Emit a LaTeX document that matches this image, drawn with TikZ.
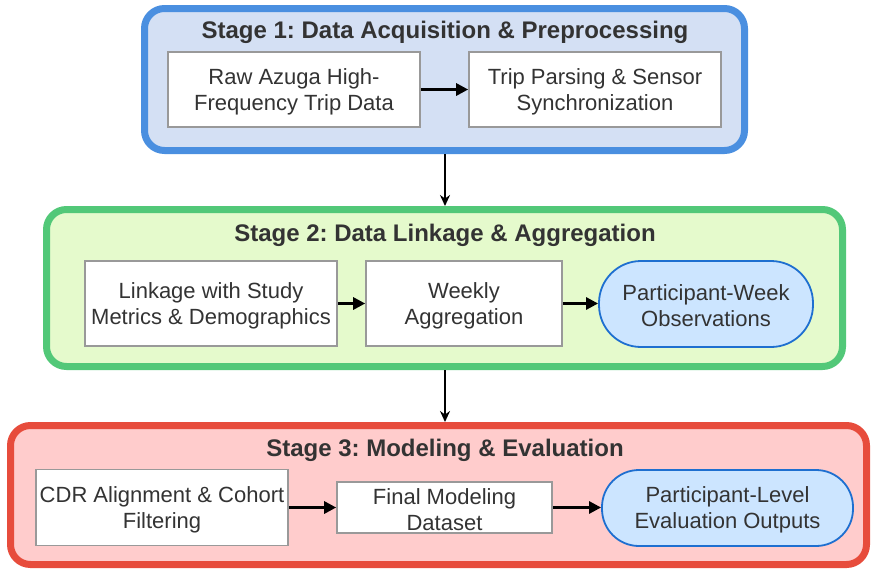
\documentclass[tikz,border=0pt]{standalone}
\usepackage{fontspec}
\setmainfont{Liberation Sans}
\usetikzlibrary{arrows.meta}
\frenchspacing

\definecolor{txt}{HTML}{333333}
\definecolor{oneline}{HTML}{4A8FE0}
\definecolor{onefill}{HTML}{D4E0F4}
\definecolor{twoline}{HTML}{52C878}
\definecolor{twofill}{HTML}{E5FACC}
\definecolor{threeline}{HTML}{E74C3C}
\definecolor{threefill}{HTML}{FFCCCC}
\definecolor{boxline}{HTML}{999999}
\definecolor{termline}{HTML}{1E6FD0}
\definecolor{termfill}{HTML}{CCE5FF}

% extra room above the first text line, to sit the text a little lower
\newcommand{\toppad}{\rule{0pt}{20pt}}

\tikzset{
  stagebox/.style={draw, line width=7pt, rounded corners=20pt, inner sep=0pt},
  stagetitle/.style={anchor=base, text=txt, font=\fontsize{24}{28}\selectfont\bfseries, inner sep=0pt},
  procbox/.style={draw=boxline, fill=white, line width=1.6pt, inner sep=0pt,
    align=center, text=txt, font=\fontsize{22}{26}\selectfont},
  termbox/.style={draw=termline, fill=termfill, line width=1.8pt, inner sep=0pt,
    align=center, text=txt, font=\fontsize{22}{26}\selectfont},
  flow/.style={line width=2.8pt, -{Triangle[length=12pt,width=12pt]}},
  stageflow/.style={line width=2.4pt, -{Stealth[length=11pt,width=10pt]}}
}

\begin{document}
\begin{tikzpicture}[x=1pt,y=-1pt]
\useasboundingbox (0,0) rectangle (871,571);

% Stage containers
\node[stagebox, draw=oneline, fill=onefill, minimum width=600pt, minimum height=142pt] (s1) at (444.5,79.5) {};
\node[stagebox, draw=twoline, fill=twofill, minimum width=796pt, minimum height=157pt] (s2) at (444.5,288) {};
\node[stagebox, draw=threeline, fill=threefill, minimum width=856pt, minimum height=139pt] (s3) at (438.5,495) {};

% Stage titles
\node[stagetitle] (t1) at (445,38) {Stage 1: Data Acquisition \& Preprocessing};
\node[stagetitle] (t2) at (445,241) {Stage 2: Data Linkage \& Aggregation};
\node[stagetitle] (t3) at (445,456) {Stage 3: Modeling \& Evaluation};

% Stage 1 steps
\node[procbox, minimum width=252pt, minimum height=75pt] (raw) at (294,89.5) {\toppad Raw Azuga High-\\Frequency Trip Data};
\node[procbox, minimum width=252pt, minimum height=75pt] (trip) at (595,89.5) {\toppad Trip Parsing \& Sensor\\Synchronization};

% Stage 2 steps
\node[procbox, minimum width=252pt, minimum height=85pt] (link) at (211,303.5) {\toppad Linkage with Study\\Metrics \& Demographics};
\node[procbox, minimum width=196pt, minimum height=85pt] (week) at (464,303.5) {\toppad Weekly\\Aggregation};
\node[termbox, minimum width=214pt, minimum height=86pt, rounded corners=42pt] (pw) at (706,304) {\toppad Participant-Week\\Observations};

% Stage 3 steps
\node[procbox, minimum width=252pt, minimum height=76pt] (cdr) at (162,507.5) {\toppad CDR Alignment \& Cohort\\Filtering};
\node[procbox, minimum width=215pt, minimum height=51pt] (final) at (444.5,507.5) {\toppad Final Modeling\\Dataset};
\node[termbox, minimum width=251pt, minimum height=76pt, rounded corners=37pt] (pl) at (727.5,508) {\toppad Participant-Level\\Evaluation Outputs};

% Connectors within stages
\draw[flow] (raw.east) -- (trip.west);
\draw[flow] (link.east) -- (week.west);
\draw[flow] (week.east) -- (week.east -| pw.west);
\draw[flow] (cdr.east) -- (final.west);
\draw[flow] (final.east) -- (final.east -| pl.west);

% Connectors between stages
\draw[stageflow] (s1.south -| t1.base) -- (s2.north -| t1.base);
\draw[stageflow] (s2.south -| t1.base) -- (s3.north -| t1.base);
\end{tikzpicture}
\end{document}
